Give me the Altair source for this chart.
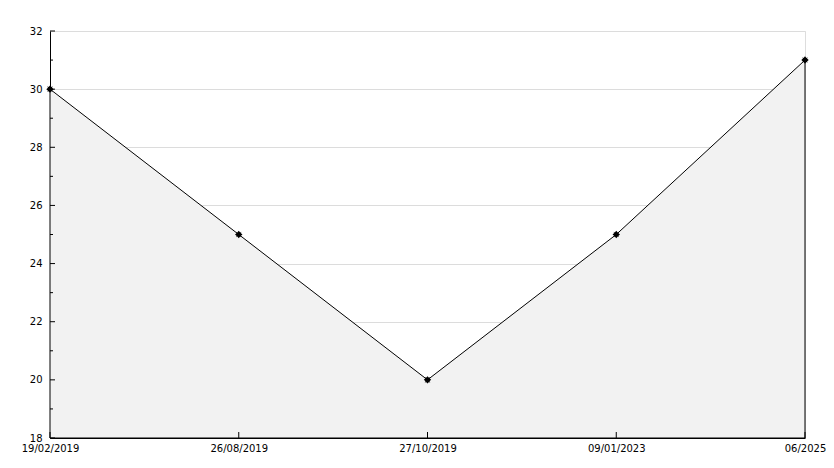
import altair as alt
import pandas as pd

labels = ["19/02/2019", "26/08/2019", "27/10/2019", "09/01/2023", "06/2025"]
values = [30, 25, 20, 25, 31]
major_ticks = [18, 20, 22, 24, 26, 28, 30, 32]
minor_ticks = [19, 21, 23, 25, 27, 29, 31]

df = pd.DataFrame({"label": labels, "value": values})
df_major = pd.DataFrame({"v": major_ticks})
df_minor = pd.DataFrame({"v": minor_ticks})

W, H = 755, 407
FONT = "DejaVu Sans"

xenc = alt.X("label:O", sort=labels,
             scale=alt.Scale(type="point", padding=0),
             axis=alt.Axis(title=None, labelAngle=0, ticks=False, domainColor="black",
                           labelFont=FONT, labelFontSize=10, labelColor="black",
                           labelPadding=5, grid=False, labelOverlap=False))
yscale = alt.Scale(domain=[18, 32], nice=False, zero=False)

base = alt.Chart(df)

area = base.mark_area(color="#f2f2f2", stroke="black", strokeWidth=1).encode(
    x=xenc,
    y=alt.Y("value:Q", scale=yscale,
            axis=alt.Axis(title=None, values=major_ticks, ticks=False, domainColor="black",
                          labelFont=FONT, labelFontSize=10, labelColor="black",
                          labelPadding=8, grid=True, gridColor="#dcdcdc")),
    y2=alt.datum(18),
)

star = "M0,-1L0.4,-0.55L0.75,-0.75L0.55,-0.4L1,0L0.55,0.4L0.75,0.75L0.4,0.55L0,1L-0.4,0.55L-0.75,0.75L-0.55,0.4L-1,0L-0.55,-0.4L-0.75,-0.75L-0.4,-0.55Z"
points = base.mark_point(shape=star, filled=True, color="black", size=55, opacity=1).encode(
    x=alt.X("label:O", sort=labels), y=alt.Y("value:Q")
)

xticks = base.mark_rule(color="black", strokeWidth=1).encode(
    x=alt.X("label:O", sort=labels), y=alt.value(H), y2=alt.value(H - 6)
)

ymajor = alt.Chart(df_major).mark_rule(color="black", strokeWidth=1).encode(
    y=alt.Y("v:Q", scale=yscale), x=alt.value(0), x2=alt.value(5)
)
yminor = alt.Chart(df_minor).mark_rule(color="black", strokeWidth=1).encode(
    y=alt.Y("v:Q", scale=yscale), x=alt.value(0), x2=alt.value(3)
)

chart = alt.layer(area, xticks, ymajor, yminor, points).properties(
    width=W, height=H,
    autosize=alt.AutoSizeParams(type="none"),
    padding={"left": 42, "top": 23, "right": 21, "bottom": 22},
).configure_view(stroke=None).configure(background="white")

chart.save("out.html", embed_options={"renderer": "svg", "actions": False})
